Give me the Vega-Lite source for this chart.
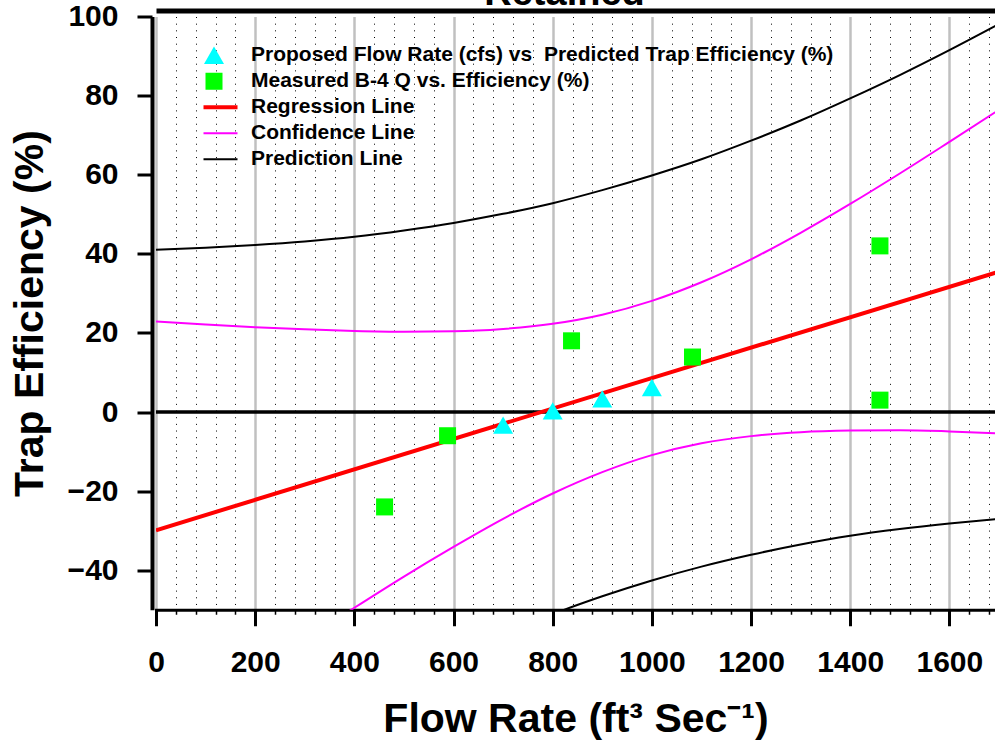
{
  "$schema": "https://vega.github.io/schema/vega-lite/v6.json",
  "autosize": "none",
  "width": 839,
  "height": 593.25,
  "padding": {"left": 156, "top": 16.5, "right": 0, "bottom": 137.25},
  "datasets": {
    "reg": [
      {"flow": 0, "te": -29.9, "series": "Regression Line", "curve": "reg"},
      {"flow": 1700, "te": 35.5, "series": "Regression Line", "curve": "reg"}
    ],
    "bands": [
      {"flow": 0, "te": 22.9, "series": "Confidence Line", "curve": "cu"},
      {"flow": 100, "te": 22.1, "series": "Confidence Line", "curve": "cu"},
      {"flow": 200, "te": 21.4, "series": "Confidence Line", "curve": "cu"},
      {"flow": 300, "te": 20.9, "series": "Confidence Line", "curve": "cu"},
      {"flow": 400, "te": 20.5, "series": "Confidence Line", "curve": "cu"},
      {"flow": 500, "te": 20.3, "series": "Confidence Line", "curve": "cu"},
      {"flow": 600, "te": 20.4, "series": "Confidence Line", "curve": "cu"},
      {"flow": 700, "te": 21.0, "series": "Confidence Line", "curve": "cu"},
      {"flow": 800, "te": 22.3, "series": "Confidence Line", "curve": "cu"},
      {"flow": 900, "te": 24.6, "series": "Confidence Line", "curve": "cu"},
      {"flow": 1000, "te": 28.1, "series": "Confidence Line", "curve": "cu"},
      {"flow": 1100, "te": 32.8, "series": "Confidence Line", "curve": "cu"},
      {"flow": 1200, "te": 38.6, "series": "Confidence Line", "curve": "cu"},
      {"flow": 1300, "te": 45.3, "series": "Confidence Line", "curve": "cu"},
      {"flow": 1400, "te": 52.6, "series": "Confidence Line", "curve": "cu"},
      {"flow": 1500, "te": 60.3, "series": "Confidence Line", "curve": "cu"},
      {"flow": 1600, "te": 68.3, "series": "Confidence Line", "curve": "cu"},
      {"flow": 1700, "te": 76.4, "series": "Confidence Line", "curve": "cu"},
      {"flow": 0, "te": -82.7, "series": "Confidence Line", "curve": "cl"},
      {"flow": 100, "te": -74.3, "series": "Confidence Line", "curve": "cl"},
      {"flow": 200, "te": -65.9, "series": "Confidence Line", "curve": "cl"},
      {"flow": 300, "te": -57.6, "series": "Confidence Line", "curve": "cl"},
      {"flow": 400, "te": -49.5, "series": "Confidence Line", "curve": "cl"},
      {"flow": 500, "te": -41.6, "series": "Confidence Line", "curve": "cl"},
      {"flow": 600, "te": -34.1, "series": "Confidence Line", "curve": "cl"},
      {"flow": 700, "te": -27.0, "series": "Confidence Line", "curve": "cl"},
      {"flow": 800, "te": -20.6, "series": "Confidence Line", "curve": "cl"},
      {"flow": 900, "te": -15.2, "series": "Confidence Line", "curve": "cl"},
      {"flow": 1000, "te": -10.9, "series": "Confidence Line", "curve": "cl"},
      {"flow": 1100, "te": -7.9, "series": "Confidence Line", "curve": "cl"},
      {"flow": 1200, "te": -6.1, "series": "Confidence Line", "curve": "cl"},
      {"flow": 1300, "te": -5.1, "series": "Confidence Line", "curve": "cl"},
      {"flow": 1400, "te": -4.7, "series": "Confidence Line", "curve": "cl"},
      {"flow": 1500, "te": -4.6, "series": "Confidence Line", "curve": "cl"},
      {"flow": 1600, "te": -4.9, "series": "Confidence Line", "curve": "cl"},
      {"flow": 1700, "te": -5.4, "series": "Confidence Line", "curve": "cl"},
      {"flow": 0, "te": 41.0, "series": "Prediction Line", "curve": "pu"},
      {"flow": 100, "te": 41.5, "series": "Prediction Line", "curve": "pu"},
      {"flow": 200, "te": 42.2, "series": "Prediction Line", "curve": "pu"},
      {"flow": 300, "te": 43.1, "series": "Prediction Line", "curve": "pu"},
      {"flow": 400, "te": 44.3, "series": "Prediction Line", "curve": "pu"},
      {"flow": 500, "te": 45.9, "series": "Prediction Line", "curve": "pu"},
      {"flow": 600, "te": 47.8, "series": "Prediction Line", "curve": "pu"},
      {"flow": 700, "te": 50.1, "series": "Prediction Line", "curve": "pu"},
      {"flow": 800, "te": 52.8, "series": "Prediction Line", "curve": "pu"},
      {"flow": 900, "te": 56.1, "series": "Prediction Line", "curve": "pu"},
      {"flow": 1000, "te": 59.8, "series": "Prediction Line", "curve": "pu"},
      {"flow": 1100, "te": 63.9, "series": "Prediction Line", "curve": "pu"},
      {"flow": 1200, "te": 68.6, "series": "Prediction Line", "curve": "pu"},
      {"flow": 1300, "te": 73.7, "series": "Prediction Line", "curve": "pu"},
      {"flow": 1400, "te": 79.3, "series": "Prediction Line", "curve": "pu"},
      {"flow": 1500, "te": 85.2, "series": "Prediction Line", "curve": "pu"},
      {"flow": 1600, "te": 91.5, "series": "Prediction Line", "curve": "pu"},
      {"flow": 1700, "te": 98.1, "series": "Prediction Line", "curve": "pu"},
      {"flow": 500, "te": -67.2, "series": "Prediction Line", "curve": "pl"},
      {"flow": 600, "te": -61.4, "series": "Prediction Line", "curve": "pl"},
      {"flow": 700, "te": -56.0, "series": "Prediction Line", "curve": "pl"},
      {"flow": 800, "te": -51.1, "series": "Prediction Line", "curve": "pl"},
      {"flow": 900, "te": -46.6, "series": "Prediction Line", "curve": "pl"},
      {"flow": 1000, "te": -42.6, "series": "Prediction Line", "curve": "pl"},
      {"flow": 1100, "te": -39.1, "series": "Prediction Line", "curve": "pl"},
      {"flow": 1200, "te": -36.1, "series": "Prediction Line", "curve": "pl"},
      {"flow": 1300, "te": -33.5, "series": "Prediction Line", "curve": "pl"},
      {"flow": 1400, "te": -31.3, "series": "Prediction Line", "curve": "pl"},
      {"flow": 1500, "te": -29.6, "series": "Prediction Line", "curve": "pl"},
      {"flow": 1600, "te": -28.2, "series": "Prediction Line", "curve": "pl"},
      {"flow": 1700, "te": -27.0, "series": "Prediction Line", "curve": "pl"}
    ],
    "proposed": [
      {"flow": 700, "te": -3.3, "series": "Proposed Flow Rate (cfs) vs\u00a0 Predicted Trap Efficiency (%)"},
      {"flow": 800, "te": 0.3, "series": "Proposed Flow Rate (cfs) vs\u00a0 Predicted Trap Efficiency (%)"},
      {"flow": 900, "te": 3.3, "series": "Proposed Flow Rate (cfs) vs\u00a0 Predicted Trap Efficiency (%)"},
      {"flow": 1000, "te": 6.2, "series": "Proposed Flow Rate (cfs) vs\u00a0 Predicted Trap Efficiency (%)"}
    ],
    "measured": [
      {"flow": 461, "te": -24.0, "series": "Measured B-4 Q vs. Efficiency (%)"},
      {"flow": 588, "te": -6.0, "series": "Measured B-4 Q vs. Efficiency (%)"},
      {"flow": 838, "te": 18.0, "series": "Measured B-4 Q vs. Efficiency (%)"},
      {"flow": 1082, "te": 13.9, "series": "Measured B-4 Q vs. Efficiency (%)"},
      {"flow": 1460, "te": 42.0, "series": "Measured B-4 Q vs. Efficiency (%)"},
      {"flow": 1460, "te": 3.0, "series": "Measured B-4 Q vs. Efficiency (%)"}
    ]
  },
  "layer": [
    {
      "data": {"values": [{"zero": 0}]},
      "mark": {"type": "rule", "color": "black", "strokeWidth": 3.5},
      "encoding": {
        "y": {"field": "zero", "type": "quantitative", "scale": {"domain": [-50, 100], "nice": false, "zero": false}, "axis": null}
      }
    },
    {
      "data": {"name": "reg"},
      "mark": {"type": "line", "clip": true, "strokeWidth": 4},
      "encoding": {
        "x": {"field": "flow", "type": "quantitative", "scale": {"domain": [0, 1692], "nice": false, "zero": false},
          "axis": {"orient": "top", "labels": false, "ticks": false, "grid": false, "domain": true, "domainWidth": 5, "domainColor": "black", "offset": 6,
            "title": "Retained", "titleFontSize": 38, "titleFont": "Liberation Sans", "titleFontWeight": "bold", "titleColor": "black",
            "titleBaseline": "alphabetic", "titleAnchor": "middle", "titleX": 408, "titleY": -6, "titleAngle": 0}},
        "y": {"field": "te", "type": "quantitative", "scale": {"domain": [-50, 100], "nice": false, "zero": false}, "axis": null},
        "color": {"field": "series", "type": "nominal",
          "scale": {
            "domain": ["Proposed Flow Rate (cfs) vs\u00a0 Predicted Trap Efficiency (%)", "Measured B-4 Q vs. Efficiency (%)", "Regression Line", "Confidence Line", "Prediction Line"],
            "range": ["#00ffff", "#00ff00", "#ff0000", "#ff00ff", "#000000"]
          },
          "legend": {
            "orient": "none", "legendX": 47.5, "legendY": 26, "title": null, "padding": 0, "offset": 0,
            "direction": "vertical", "columns": 1,
            "symbolSize": 2209, "symbolStrokeWidth": 0,
            "labelFontSize": 21, "labelFont": "Liberation Sans", "labelFontWeight": "bold", "labelColor": "black",
            "labelLimit": 900, "labelOffset": 26.5, "clipHeight": 25.5, "rowPadding": 0,
            "encode": {
              "symbols": {
                "update": {
                  "shape": {"signal": "datum.index == 0 ? 'triangle-up' : datum.index == 1 ? 'square' : 'stroke'"},
                  "size": {"signal": "datum.index == 0 ? 400 : datum.index == 1 ? 289 : 2209"},
                  "fill": {"scale": "color", "field": "value"},
                  "stroke": {"scale": "color", "field": "value"},
                  "strokeWidth": {"signal": "datum.index == 2 ? 4 : datum.index > 2 ? 2 : 0"},
                  "opacity": {"value": 1},
                  "fillOpacity": {"value": 1},
                  "strokeOpacity": {"value": 1}
                }
              }
            }
          }
        }
      }
    },
    {
      "data": {"name": "bands"},
      "mark": {"type": "line", "clip": true, "strokeWidth": 2, "interpolate": "monotone"},
      "encoding": {
        "x": {"field": "flow", "type": "quantitative", "scale": {"domain": [0, 1692], "nice": false, "zero": false},
          "axis": {"orient": "bottom", "values": [40, 80, 120, 160, 240, 280, 320, 360, 440, 480, 520, 560, 640, 680, 720, 760, 840, 880, 920, 960, 1040, 1080, 1120, 1160, 1240, 1280, 1320, 1360, 1440, 1480, 1520, 1560, 1640, 1680],
            "labels": false, "domain": false, "ticks": true, "tickSize": 4.5, "tickWidth": 1.5, "tickColor": "black",
            "grid": true, "gridColor": "black", "gridDash": [1, 5.67], "gridWidth": 1, "gridOpacity": 1, "title": null}},
        "y": {"field": "te", "type": "quantitative", "scale": {"domain": [-50, 100], "nice": false, "zero": false},
          "axis": {"orient": "left", "values": [-40, -20, 0, 20, 40, 60, 80, 100], "offset": 4, "domainWidth": 4, "domainColor": "black",
            "tickSize": 15, "tickWidth": 3, "tickColor": "black", "labelFontSize": 30, "labelPadding": 19, "grid": false,
            "title": "Trap Efficiency (%)", "titleFontSize": 41, "titlePadding": 16}},
        "color": {"field": "series", "type": "nominal"},
        "detail": {"field": "curve", "type": "nominal"}
      }
    },
    {
      "data": {"name": "proposed"},
      "mark": {"type": "point", "shape": "triangle-up", "filled": true, "size": 400, "opacity": 1},
      "encoding": {
        "x": {"field": "flow", "type": "quantitative", "scale": {"domain": [0, 1692], "nice": false, "zero": false},
          "axis": {"orient": "bottom", "values": [0, 200, 400, 600, 800, 1000, 1200, 1400, 1600], "format": "d", "grid": true, "gridColor": "#c0c0c0", "gridWidth": 2.5, "gridOpacity": 1,
            "domainWidth": 3, "domainColor": "black", "domainCap": "square", "tickSize": 16, "tickWidth": 3, "tickColor": "black",
            "labelFontSize": 30, "labelPadding": 22, "labelFlush": false, "labelOverlap": false,
            "title": "Flow Rate (ft³ Sec⁻¹)", "titleFontSize": 41, "titlePadding": 22}},
        "y": {"field": "te", "type": "quantitative", "scale": {"domain": [-50, 100], "nice": false, "zero": false}, "axis": null},
        "color": {"field": "series", "type": "nominal"}
      }
    },
    {
      "data": {"name": "measured"},
      "mark": {"type": "point", "shape": "square", "filled": true, "size": 289, "opacity": 1},
      "encoding": {
        "x": {"field": "flow", "type": "quantitative", "scale": {"domain": [0, 1692], "nice": false, "zero": false}, "axis": null},
        "y": {"field": "te", "type": "quantitative", "scale": {"domain": [-50, 100], "nice": false, "zero": false}, "axis": null},
        "color": {"field": "series", "type": "nominal"}
      }
    }
  ],
  "resolve": {"axis": {"x": "independent", "y": "independent"}},
  "config": {
    "view": {"stroke": null},
    "font": "Liberation Sans",
    "axis": {"labelFont": "Liberation Sans", "titleFont": "Liberation Sans", "labelFontWeight": "bold", "titleFontWeight": "bold", "labelColor": "black", "titleColor": "black"}
  }
}
